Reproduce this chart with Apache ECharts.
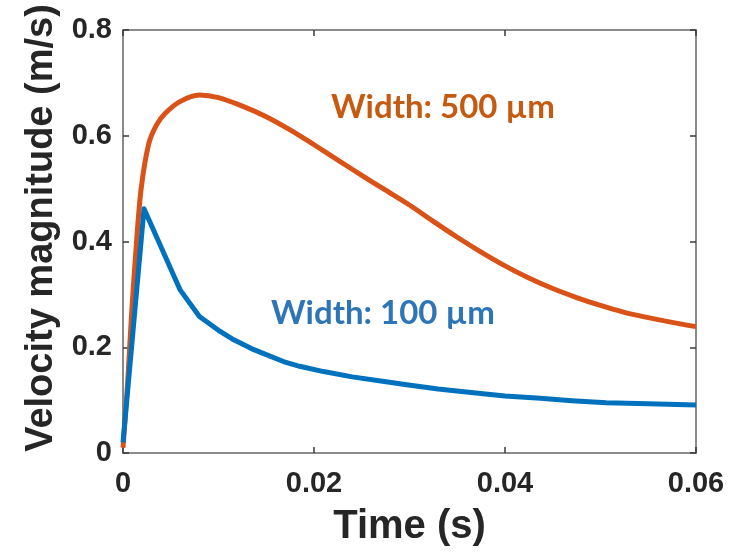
<!DOCTYPE html>
<html>
<head>
<meta charset="utf-8">
<script src="https://cdn.jsdelivr.net/npm/echarts@6/dist/echarts.min.js"></script>
<style>html,body{margin:0;padding:0;background:#fff;}#c{width:736px;height:552px;}</style>
</head>
<body>
<div id="c"></div>
<script>
// Width 500 µm (orange)
var timeOrange = [0, 0.0002, 0.0005, 0.0009, 0.0014, 0.0019, 0.0027, 0.0035, 0.0044, 0.006, 0.008, 0.01, 0.0125, 0.015, 0.0175, 0.02, 0.0225, 0.025, 0.0275, 0.03, 0.0325, 0.035, 0.0375, 0.04, 0.0425, 0.045, 0.0475, 0.05, 0.0525, 0.055, 0.0575, 0.06];
var velOrange  = [0.01, 0.06, 0.137, 0.263, 0.395, 0.5, 0.585, 0.62, 0.642, 0.665, 0.677, 0.672, 0.656, 0.636, 0.611, 0.583, 0.554, 0.525, 0.497, 0.469, 0.438, 0.408, 0.38, 0.354, 0.331, 0.311, 0.294, 0.279, 0.266, 0.256, 0.247, 0.239];
// Width 100 µm (blue)
var timeBlue = [0, 0.0022, 0.006, 0.008, 0.01, 0.0116, 0.0135, 0.015, 0.0168, 0.0185, 0.021, 0.024, 0.027, 0.0297, 0.033, 0.0367, 0.04, 0.0437, 0.047, 0.0506, 0.055, 0.06];
var velBlue  = [0.02, 0.462, 0.308, 0.258, 0.232, 0.214, 0.197, 0.186, 0.173, 0.164, 0.154, 0.144, 0.136, 0.129, 0.121, 0.114, 0.108, 0.1035, 0.099, 0.095, 0.093, 0.091];
var xTicks = [0, 0.02, 0.04, 0.06];
var yTicks = [0, 0.2, 0.4, 0.6, 0.8];
var labelOrange = 'Width: 500 µm';
var labelBlue = 'Width: 100 µm';
var xTitle = 'Time (s)';
var yTitle = 'Velocity magnitude (m/s)';

function pairs(t, v) { return t.map(function (x, i) { return [x, v[i]]; }); }

var axisLineStyle = { color: '#8a8a8a', width: 2 };
var tickStyle = { color: '#3a3a3a', width: 1.5 };
var labelFont = { color: '#262626', fontFamily: 'Liberation Sans', fontWeight: 'bold', fontSize: 29 };

var chart = echarts.init(document.getElementById('c'), null, { renderer: 'canvas' });
chart.setOption({
  animation: false,
  backgroundColor: '#fff',
  grid: { left: 123, right: 40, top: 30, bottom: 99, containLabel: false },
  xAxis: [{
    type: 'value', min: 0, max: 0.06, interval: 0.02, position: 'bottom',
    axisLine: { show: true, lineStyle: axisLineStyle },
    axisTick: { show: true, inside: true, length: 6, lineStyle: tickStyle },
    axisLabel: Object.assign({ margin: 16, formatter: function (v) { return xTicks.indexOf(+v.toFixed(2)) >= 0 ? String(+v.toFixed(2)) : ''; } }, labelFont),
    splitLine: { show: false },
    name: xTitle, nameLocation: 'middle', nameGap: 54,
    nameTextStyle: { color: '#262626', fontFamily: 'Liberation Sans', fontWeight: 'bold', fontSize: 40 }
  }, {
    type: 'value', min: 0, max: 0.06, interval: 0.02, position: 'top',
    axisLine: { show: true, onZero: false, lineStyle: axisLineStyle },
    axisTick: { show: true, inside: true, length: 6, lineStyle: tickStyle },
    axisLabel: { show: false }, splitLine: { show: false }
  }],
  yAxis: [{
    type: 'value', min: 0, max: 0.8, interval: 0.2, position: 'left',
    axisLine: { show: true, lineStyle: axisLineStyle },
    axisTick: { show: true, inside: true, length: 6, lineStyle: tickStyle },
    axisLabel: Object.assign({ margin: 11, formatter: function (v) { return String(+v.toFixed(1)); } }, labelFont),
    splitLine: { show: false }
  }, {
    type: 'value', min: 0, max: 0.8, interval: 0.2, position: 'right',
    axisLine: { show: true, onZero: false, lineStyle: axisLineStyle },
    axisTick: { show: true, inside: true, length: 6, lineStyle: tickStyle },
    axisLabel: { show: false }, splitLine: { show: false }
  }],
  series: [{
    name: labelOrange, type: 'line', data: pairs(timeOrange, velOrange),
    smooth: 0.3, showSymbol: false, symbol: 'none',
    lineStyle: { color: '#D95319', width: 5 }, z: 3
  }, {
    name: labelBlue, type: 'line', data: pairs(timeBlue, velBlue),
    smooth: false, showSymbol: false, symbol: 'none',
    lineStyle: { color: '#0072BD', width: 5, join: 'round' }, z: 4
  }],
  graphic: [{
    type: 'text', left: 331, top: 91,
    style: { text: labelOrange, fill: '#C55A11', font: 'bold 33px Lato' }
  }, {
    type: 'text', left: 271, top: 297,
    style: { text: labelBlue, fill: '#2E75B6', font: 'bold 33px Lato' }
  }, {
    type: 'text', x: 42, y: 228, rotation: Math.PI / 2,
    style: { text: yTitle, fill: '#262626', font: 'bold 38px "Liberation Sans"', align: 'center', verticalAlign: 'middle' }
  }]
});
</script>
</body>
</html>
